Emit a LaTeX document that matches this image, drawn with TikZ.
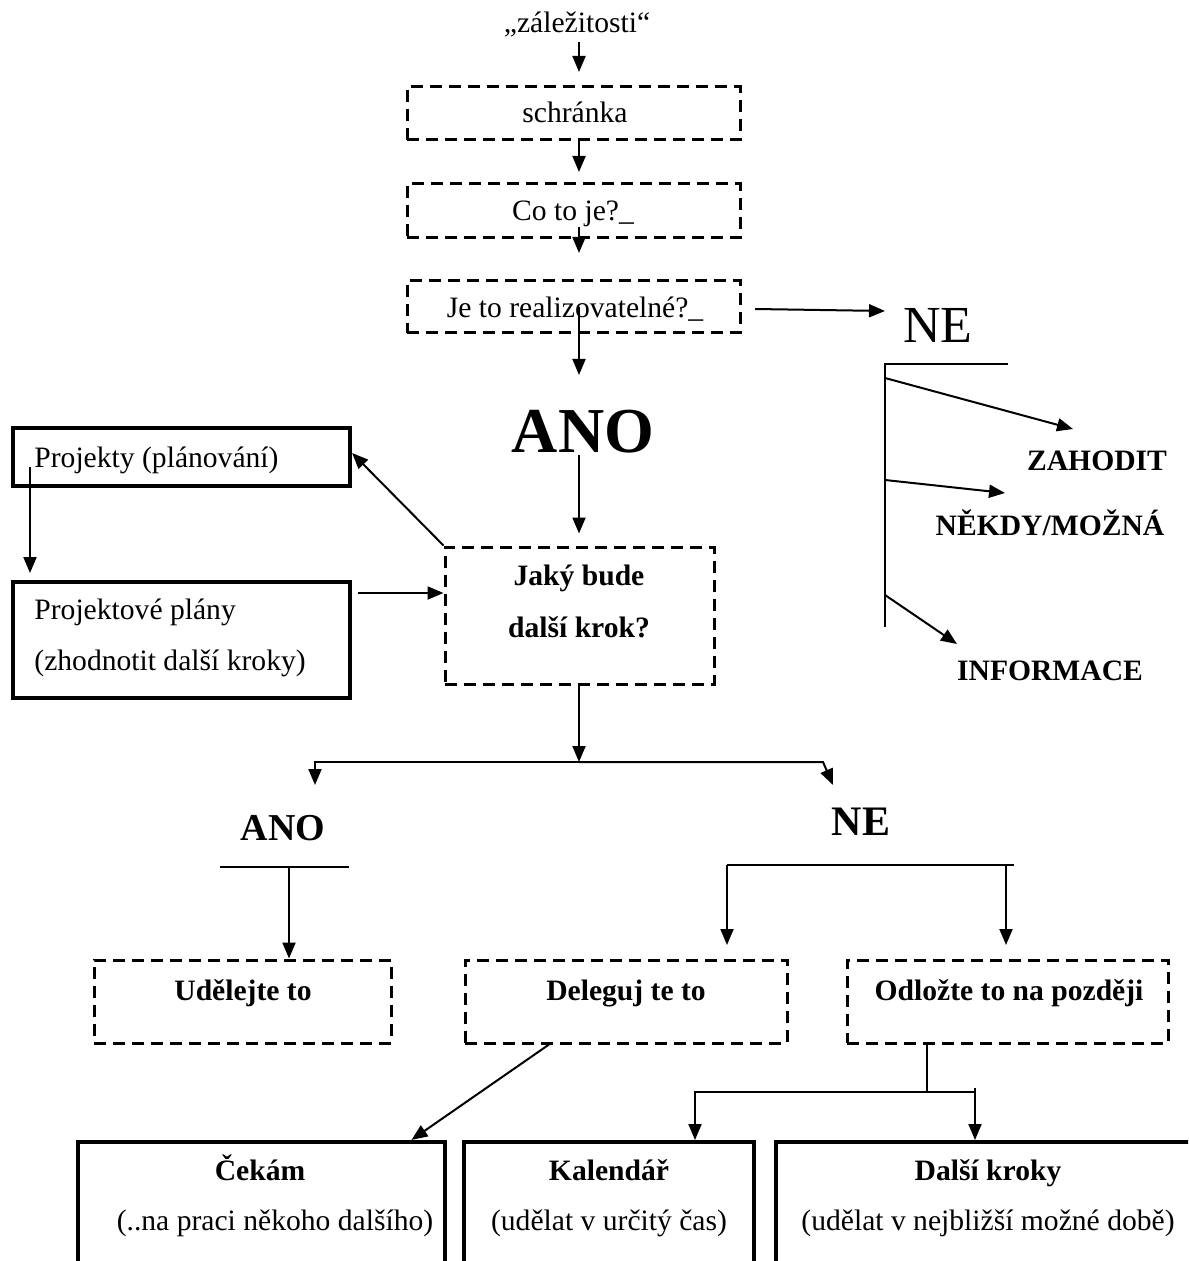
\documentclass[tikz,border=0pt]{standalone}
\usepackage{fontspec}
\setmainfont{Liberation Serif}
\usetikzlibrary{arrows.meta,calc}
\begin{document}
\begin{tikzpicture}[x=0.5pt,y=-0.5pt]
\tikzset{
 dbox/.style={draw, dash pattern=on 6pt off 3.5pt, line width=1.5pt, rectangle, inner sep=0pt},
 sbox/.style={draw, line width=2.1pt, rectangle, inner sep=0pt},
 arr/.style={-{Triangle[length=8pt,width=6.5pt]}, line width=1pt},
 ln/.style={line width=1pt},
 txt/.style={font=\fontsize{14.8}{17}\selectfont, inner sep=0pt, text height=10.5pt, text depth=3pt},
 btxt/.style={font=\bfseries\fontsize{14.8}{17}\selectfont, inner sep=0pt, text height=10.5pt, text depth=3pt},
}
\useasboundingbox (0,0) rectangle (1188,1261);
\clip (0,0) rectangle (1188,1261);

% top chain
\node[txt] (zaz) at (577,25) {„záležitosti“};
\node[dbox, minimum width=166.5pt, minimum height=26.5pt] (schr) at (573.5,113.5) {};
\node[txt] (schrT) at (575,115) {schránka};
\node[dbox, minimum width=166.5pt, minimum height=27pt] (co) at (573.5,211) {};
\node[txt] (coT) at (573,213) {Co to je?\_};
\node[dbox, minimum width=166.5pt, minimum height=26pt] (real) at (573.5,307) {};
\node[txt] (realT) at (575,310) {Je to realizovatelné?\_};

\coordinate (a1s) at (579,42);  \coordinate (a1) at (579,72);
\coordinate (a2) at (579,172);
\coordinate (a3s) at (579,227); \coordinate (a3) at (579,253);
\coordinate (a4s) at (579,307); \coordinate (a4) at (579,375);
\draw[arr] (a1s) -- (a1);
\draw[arr] (schr.south -| a2) -- (a2);
\draw[arr] (a3s) -- (a3);
\draw[arr] (a4s) -- (a4);

% NE right
\node[font=\fontsize{26}{30}\selectfont, inner sep=0pt] (neR) at (938,325) {NE};
\coordinate (neS) at (755,309); \coordinate (neE) at (885,311);
\draw[arr] (neS) -- (neE);
\coordinate (brTR) at (1008,364); \coordinate (brT) at (885,364); \coordinate (brB) at (885,627);
\draw[ln] (brTR) -- (brT) -- (brB);
\node[btxt] (zah) at (1097,463) {ZAHODIT};
\node[btxt] (nek) at (1050,528) {NĚKDY/MOŽNÁ};
\node[btxt] (inf) at (1050,673) {INFORMACE};
\coordinate (z1) at (885,378); \coordinate (z2) at (1073,429);
\coordinate (n1) at (885,480); \coordinate (n2) at (1005,493);
\coordinate (i1) at (885,595); \coordinate (i2) at (957,644);
\draw[arr] (z1) -- (z2);
\draw[arr] (n1) -- (n2);
\draw[arr] (i1) -- (i2);

% ANO big
\node[font=\bfseries\fontsize{32}{36}\selectfont, inner sep=0pt] (anoBig) at (583,432) {ANO};
\node[dbox, minimum width=134.5pt, minimum height=68.5pt] (jaky) at (579.5,615.5) {};
\node[btxt] (jaky1) at (579,578) {Jaký bude};
\node[btxt] (jaky2) at (579,630) {další krok?};
\coordinate (a5s) at (579,455);
\draw[arr] (a5s) -- ([yshift=6pt]jaky.north -| a5s);

% projects
\node[sbox, minimum width=168.5pt, minimum height=29pt] (proj) at (181.5,457) {};
\node[txt, anchor=west] (projT) at (34,460) {Projekty (plánování)};
\node[sbox, minimum width=168.5pt, minimum height=58pt] (plany) at (181.5,640) {};
\node[txt, anchor=west] (plany1) at (34,612) {Projektové plány};
\node[txt, anchor=west] (plany2) at (34,663) {(zhodnotit další kroky)};
\draw[arr] (jaky.north west) -- ([yshift=2pt]proj.east);
\coordinate (p8) at (358,593);
\draw[arr] (p8) -- (p8 -| jaky.west);
\coordinate (p9s) at (30,467); \coordinate (p9) at (30,573);
\draw[arr] (p9s) -- (p9);

% branch
\coordinate (br) at (579,762);
\coordinate (brL) at (315,785);
\coordinate (brRc) at (823,762);
\coordinate (brR) at (833,785);
\draw[arr] (jaky.south -| br) -- (br);
\draw[arr] (br) -| (brL);
\draw[arr] (br) -- (brRc) -- (brR);

\node[font=\bfseries\fontsize{19}{22}\selectfont, inner sep=0pt] (anoM) at (283,828) {ANO};
\node[font=\bfseries\fontsize{21}{24}\selectfont, inner sep=0pt] (neM) at (861,822) {NE};

\coordinate (auL) at (220,867); \coordinate (auR) at (349,867); \coordinate (auV) at (289,867);
\draw[ln] (auL) -- (auR);

\coordinate (nbL) at (727,865); \coordinate (nbR) at (1014,865);
\coordinate (nbA) at (727,945); \coordinate (nbB) at (1006,945);
\draw[ln] (nbL) -- (nbR);
\draw[arr] (nbL) -- (nbA);
\draw[arr] (nbB |- nbL) -- (nbB);

% middle row
\node[dbox, minimum width=148.5pt, minimum height=41.5pt] (udel) at (242.5,1001.5) {};
\node[btxt] (udelT) at (243,993) {Udělejte to};
\node[dbox, minimum width=161pt, minimum height=41.5pt] (deleg) at (626,1001.5) {};
\node[btxt] (delegT) at (626,993) {Deleguj te to};
\node[dbox, minimum width=160.5pt, minimum height=41.5pt] (odloz) at (1007.5,1001.5) {};
\node[btxt] (odlozT) at (1009,993) {Odložte to na později};
\draw[arr] (auV) -- (auV |- udel.north);

% bottom row
\node[sbox, minimum width=183.5pt, minimum height=79pt] (cekam) at (261.5,1221) {};
\node[btxt] (cekam1) at (260,1173) {Čekám};
\node[txt] (cekam2) at (275,1223) {(..na praci někoho dalšího)};
\node[sbox, minimum width=145pt, minimum height=79pt] (kal) at (609,1221) {};
\node[btxt] (kal1) at (609,1173) {Kalendář};
\node[txt] (kal2) at (609,1223) {(udělat v určitý čas)};
\node[sbox, minimum width=212pt, minimum height=79pt] (dalsi) at (988,1221) {};
\node[btxt] (dalsi1) at (988,1173) {Další kroky};
\node[txt] (dalsi2) at (988,1223) {(udělat v nejbližší možné době)};

\draw[arr] ($(deleg.south)+(-77,0)$) -- ($(cekam.north)+(150,0)$);
\coordinate (h) at (927,1092);
\coordinate (hL) at (695,1140);
\coordinate (hR) at (975,1140);
\draw[ln] (odloz.south -| h) -- (h);
\draw[arr] (h) -| (hL);
\draw[ln] (h) -- (hR |- h);
\draw[arr] ([yshift=2pt]hR |- h) -- (hR);
\end{tikzpicture}
\end{document}
